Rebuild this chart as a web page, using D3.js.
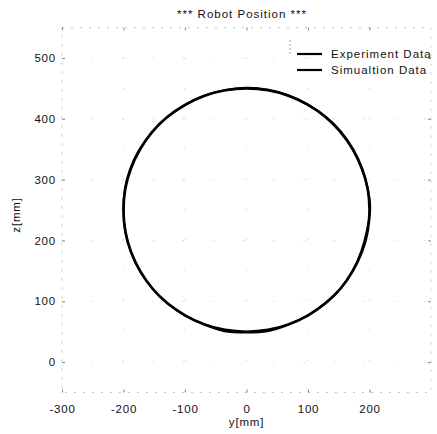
<!DOCTYPE html>
<html>
<head>
<meta charset="utf-8">
<script src="https://cdn.jsdelivr.net/npm/d3@7"></script>
<style>
  html, body { margin: 0; padding: 0; background: #fff; }
  svg { display: block; }
  text { font-family: "Liberation Sans", Arial, Helvetica, sans-serif; fill: #111; }
</style>
</head>
<body>
<svg id="chart" width="437" height="434"></svg>
<script>
// Robot end-effector trajectory in the y-z plane (mm)
const xTicks = [-300, -200, -100, 0, 100, 200];
const yTicks = [0, 100, 200, 300, 400, 500];

// Measured path
const expY = [201, 197, 187, 172, 151, 127, 99, 67, 34, 0, -35, -69, -101, -131, -155, -176, -190, -198,
              -200, -197, -188, -173, -152, -128, -99, -67, -36, 0, 34, 67, 99, 128, 153, 173, 187, 196];
const expZ = [252, 286, 319, 351, 380, 404, 424, 439, 448, 451, 447, 438, 422, 401, 376, 346, 315, 283,
              249, 214, 181, 149, 120, 96, 76, 61, 51, 49, 51, 61, 76, 97, 121, 151, 183, 217];

// Simulated path
const simY = [200, 197, 188, 173, 153, 129, 100, 68, 35, 0, -35, -68, -100, -129, -153, -173, -188, -197,
              -200, -197, -188, -173, -153, -129, -100, -68, -35, 0, 35, 68, 100, 129, 153, 173, 188, 197];
const simZ = [250, 285, 318, 350, 379, 403, 423, 438, 447, 450, 447, 438, 423, 403, 379, 350, 318, 285,
              250, 215, 182, 150, 121, 97, 77, 62, 53, 50, 53, 62, 77, 97, 121, 150, 182, 215];

const seriesNames = ["Experiment Data", "Simualtion Data"];

const svg = d3.select("#chart");
const x = d3.scaleLinear().domain([-300, 300]).range([62, 431]);
const y = d3.scaleLinear().domain([-50, 550]).range([392.5, 27.6]);

// faint dotted grid
const grid = svg.append("g").attr("stroke", "#d0d0d0").attr("stroke-width", 1)
  .attr("stroke-dasharray", "1.2,29");
grid.selectAll("line.v").data(xTicks.slice(1)).join("line")
  .attr("x1", d => x(d)).attr("x2", d => x(d)).attr("y1", y(550)).attr("y2", y(-50));
grid.selectAll("line.h").data(yTicks).join("line")
  .attr("x1", x(-300)).attr("x2", x(300)).attr("y1", d => y(d)).attr("y2", d => y(d));

// faded frame
const frame = svg.append("g").attr("fill", "none").attr("stroke", "#c4c4c4")
  .attr("stroke-width", 1).attr("stroke-dasharray", "2,7");
frame.append("rect").attr("x", x(-300)).attr("y", y(550))
  .attr("width", x(300) - x(-300)).attr("height", y(-50) - y(550));

// axes
const fmt = d => String(d);
const axB = svg.append("g").attr("transform", `translate(0,${y(-50)})`)
  .call(d3.axisBottom(x).tickValues(xTicks).tickSize(-3).tickPadding(12).tickFormat(fmt));
const axT = svg.append("g").attr("transform", `translate(0,${y(550)})`)
  .call(d3.axisTop(x).tickValues(xTicks).tickSize(-3).tickFormat(""));
const axL = svg.append("g").attr("transform", `translate(${x(-300)},0)`)
  .call(d3.axisLeft(y).tickValues(yTicks).tickSize(-3).tickPadding(6).tickFormat(fmt));
const axR = svg.append("g").attr("transform", `translate(${x(300)},0)`)
  .call(d3.axisRight(y).tickValues(yTicks).tickSize(-3).tickFormat(""));
[axB, axT, axL, axR].forEach(a => {
  a.select(".domain").remove();
  a.selectAll(".tick line").attr("stroke", "#888");
  a.selectAll(".tick text").attr("font-size", 11.5).attr("letter-spacing", "0.8px")
    .attr("font-family", "Liberation Sans, Arial, sans-serif").attr("fill", "#111");
});

// trajectories
const line = d3.line().x(d => x(d[0])).y(d => y(d[1])).curve(d3.curveCardinalClosed.tension(0.3));
const simPts = simY.map((v, i) => [v, simZ[i]]);
const expPts = expY.map((v, i) => [v, expZ[i]]);
svg.append("path").datum(simPts).attr("d", line)
  .attr("fill", "none").attr("stroke", "#000").attr("stroke-width", 2.6);
svg.append("path").datum(expPts).attr("d", line)
  .attr("fill", "none").attr("stroke", "#000").attr("stroke-width", 2.2);

// title
svg.append("text").attr("x", 242).attr("y", 18).attr("text-anchor", "middle")
  .attr("font-size", 11.5).attr("letter-spacing", "1px").text("*** Robot Position ***");

// axis titles
svg.append("text").attr("x", x(0)).attr("y", 426).attr("text-anchor", "middle")
  .attr("font-size", 11.5).attr("letter-spacing", "0.8px").text("y[mm]");
svg.append("text").attr("transform", "translate(20,215) rotate(-90)").attr("text-anchor", "middle")
  .attr("font-size", 11.5).attr("letter-spacing", "0.8px").text("z[mm]");

// legend
const leg = svg.append("g");
seriesNames.forEach((name, i) => {
  const ly = 54 + i * 16;
  leg.append("line").attr("x1", 297).attr("x2", 322).attr("y1", ly).attr("y2", ly)
    .attr("stroke", "#000").attr("stroke-width", 2.2);
  leg.append("text").attr("x", 331).attr("y", ly + 4).attr("font-size", 11.5)
    .attr("letter-spacing", "1px").text(name);
});
leg.append("line").attr("x1", 290).attr("x2", 290).attr("y1", 40).attr("y2", 56)
  .attr("stroke", "#aaa").attr("stroke-dasharray", "2,2");
</script>
</body>
</html>
